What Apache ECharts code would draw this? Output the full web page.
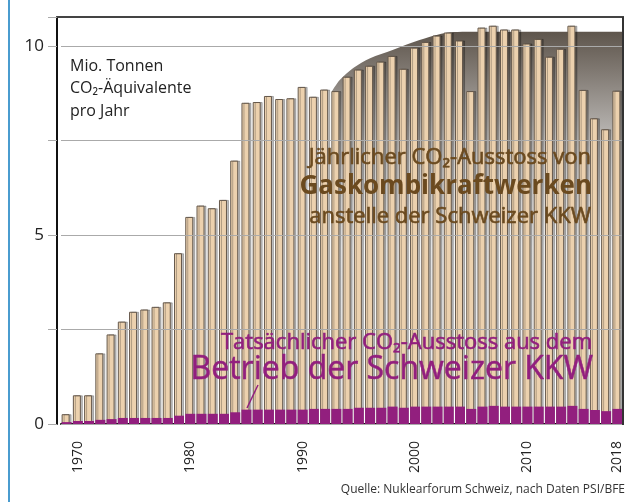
<!DOCTYPE html>
<html>
<head>
<meta charset="utf-8">
<script src="https://cdn.jsdelivr.net/npm/echarts@6/dist/echarts.min.js"></script>
<style>
  html, body { margin: 0; padding: 0; background: #fff; }
  #chart { width: 630px; height: 502px; }
</style>
</head>
<body>
<div id="chart"></div>
<script>
  // Jahre 1969 - 2018
  const years = ['1969', '1970', '1971', '1972', '1973', '1974', '1975', '1976', '1977', '1978',
    '1979', '1980', '1981', '1982', '1983', '1984', '1985', '1986', '1987', '1988',
    '1989', '1990', '1991', '1992', '1993', '1994', '1995', '1996', '1997', '1998',
    '1999', '2000', '2001', '2002', '2003', '2004', '2005', '2006', '2007', '2008',
    '2009', '2010', '2011', '2012', '2013', '2014', '2015', '2016', '2017', '2018']

  // CO2 von Gaskombikraftwerken anstelle der KKW (Mio. t)
  const gasValues = [0.26, 0.76, 0.76, 1.87, 2.37, 2.71, 2.97, 3.03, 3.10, 3.22,
    4.52, 5.48, 5.78, 5.71, 5.93, 6.97, 8.50, 8.52, 8.68, 8.60,
    8.62, 8.92, 8.66, 8.85, 8.81, 9.19, 9.38, 9.48, 9.59, 9.74,
    9.40, 9.96, 10.11, 10.28, 10.36, 10.15, 8.81, 10.49, 10.54, 10.44,
    10.44, 10.07, 10.19, 9.72, 9.93, 10.54, 8.84, 8.09, 7.80, 8.82]

  // tatsaechlicher CO2-Ausstoss der KKW (Mio. t)
  const kkwValues = [0.05, 0.08, 0.08, 0.11, 0.13, 0.16, 0.16, 0.16, 0.16, 0.16,
    0.22, 0.27, 0.27, 0.27, 0.27, 0.31, 0.38, 0.38, 0.38, 0.38,
    0.38, 0.38, 0.40, 0.40, 0.40, 0.40, 0.43, 0.43, 0.43, 0.46,
    0.43, 0.46, 0.46, 0.46, 0.46, 0.46, 0.40, 0.46, 0.48, 0.46,
    0.46, 0.46, 0.46, 0.46, 0.46, 0.48, 0.40, 0.37, 0.34, 0.40]

  // grauer Hintergrund (Huellkurve)
  const envYears = [1992.6, 1993.3, 1994.5, 1996, 1998, 2000.4, 2002, 2003.4, 2005, 2018.5]
  const envValues = [8.8, 9.1, 9.42, 9.68, 9.9, 10.16, 10.3, 10.37, 10.38, 10.38]

  const yTickLabels = ['0', '5', '10']
  const xTickLabels = ['1970', '1980', '1990', '2000', '2010', '2018']

  const FONT = '"Open Sans", Roboto, sans-serif'
  const brown = '#6b4a1f'
  const purple = '#921f7e'

  const chart = echarts.init(document.getElementById('chart'))

  const option = {
    backgroundColor: '#fff',
    animation: false,
    grid: { left: 61, right: 7, top: 17, bottom: 78 },
    xAxis: [
      {
        type: 'category',
        data: years,
        axisLine: { lineStyle: { color: '#111', width: 2 } },
        axisTick: {
          alignWithLabel: true,
          length: 12,
          interval: (i, v) => xTickLabels.includes(v),
          lineStyle: { color: '#333', width: 1.5 }
        },
        axisLabel: {
          interval: (i, v) => xTickLabels.includes(v),
          rotate: 90,
          margin: 17,
          fontSize: 14,
          color: '#222',
          fontFamily: FONT
        }
      },
      {
        type: 'value',
        min: 1968.5,
        max: 2018.5,
        show: false
      }
    ],
    yAxis: {
      type: 'value',
      min: 0,
      max: 10.77,
      interval: 2.5,
      offset: 4,
      z: 5,
      axisLine: { show: true, lineStyle: { color: '#111', width: 2 } },
      axisTick: { show: true, length: 9, lineStyle: { color: '#aaa' } },
      axisLabel: {
        fontSize: 17,
        color: '#222',
        margin: 13,
        fontFamily: FONT,
        formatter: v => yTickLabels.includes(String(v)) ? String(v) : ''
      },
      splitLine: { lineStyle: { color: '#aaa', width: 1 } }
    },
    series: [
      {
        name: 'Huelle',
        type: 'line',
        xAxisIndex: 1,
        z: -1,
        smooth: 0.3,
        showSymbol: false,
        lineStyle: { width: 0 },
        areaStyle: {
          color: new echarts.graphic.LinearGradient(0, 0, 0, 1, [
            { offset: 0, color: '#5e554c' },
            { offset: 0.1, color: '#807972' },
            { offset: 0.3, color: '#c6c4c2' },
            { offset: 0.55, color: '#f5f5f5' },
            { offset: 1, color: '#ffffff' }
          ]),
          opacity: 1
        },
        data: envYears.map((y, i) => [y, envValues[i]])
      },
      {
        name: 'Gaskombikraftwerke',
        type: 'bar',
        barWidth: 8,
        itemStyle: {
          color: '#ecd1ae',
          borderColor: '#65584b',
          borderWidth: 1,
          shadowColor: 'rgba(0,0,0,0.25)',
          shadowOffsetX: 2,
          shadowBlur: 0
        },
        data: gasValues
      },
      {
        name: 'KKW',
        type: 'bar',
        barWidth: 10,
        barGap: '-100%',
        itemStyle: { color: purple },
        data: kkwValues
      }
    ],
    graphic: [
      // blaue Randlinie
      { type: 'line', z: 100, shape: { x1: 9, y1: 0, x2: 9, y2: 502 }, style: { stroke: '#4a9ccf', lineWidth: 2 } },
      // Rahmen oben / rechts
      { type: 'line', z: 100, shape: { x1: 57, y1: 17, x2: 624, y2: 17 }, style: { stroke: '#444', lineWidth: 2 } },
      { type: 'line', z: 100, shape: { x1: 623, y1: 17, x2: 623, y2: 425 }, style: { stroke: '#333', lineWidth: 2 } },
      // Einheit
      { type: 'text', z: 100, left: 70, top: 55, style: { text: 'Mio. Tonnen\nCO₂-Äquivalente\npro Jahr', font: '16px ' + FONT, fill: '#222', lineHeight: 22.5 } },
      // Gaskombikraftwerke
      { type: 'text', z: 100, x: 591, y: 158, style: { text: 'Jährlicher CO₂-Ausstoss von', font: '22px ' + FONT, fill: brown, stroke: brown, lineWidth: 0.6, textAlign: 'right', textVerticalAlign: 'middle' } },
      { type: 'text', z: 100, x: 592, y: 187, style: { text: 'Gaskombikraftwerken', font: 'bold 26px ' + FONT, fill: brown, textAlign: 'right', textVerticalAlign: 'middle' } },
      { type: 'text', z: 100, x: 591, y: 217, style: { text: 'anstelle der Schweizer KKW', font: '22px ' + FONT, fill: brown, stroke: brown, lineWidth: 0.6, textAlign: 'right', textVerticalAlign: 'middle' } },
      // KKW
      { type: 'text', z: 100, x: 592, y: 343, style: { text: 'Tatsächlicher CO₂-Ausstoss aus dem', font: '22px ' + FONT, fill: purple, stroke: purple, lineWidth: 0.6, textAlign: 'right', textVerticalAlign: 'middle' } },
      { type: 'text', z: 100, x: 593, y: 370, style: { text: 'Betrieb der Schweizer KKW', font: '32px ' + FONT, fill: purple, stroke: purple, lineWidth: 0.5, textAlign: 'right', textVerticalAlign: 'middle' } },
      { type: 'line', z: 100, shape: { x1: 258, y1: 385, x2: 247, y2: 408 }, style: { stroke: purple, lineWidth: 1.5 } },
      // Quelle
      { type: 'text', z: 100, x: 625, y: 490, style: { text: 'Quelle: Nuklearforum Schweiz, nach Daten PSI/BFE', font: '12px ' + FONT, fill: '#333', textAlign: 'right', textVerticalAlign: 'middle' } }
    ]
  }

  chart.setOption(option)
</script>
</body>
</html>
